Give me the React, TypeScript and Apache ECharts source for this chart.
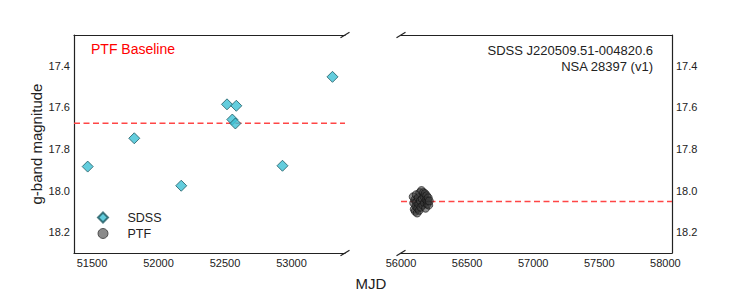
import React, { useEffect, useRef } from "react";
import * as echarts from "echarts";

const FONT = "Liberation Sans, Arial, Helvetica, sans-serif";

// SDSS photometry (MJD, g mag)
const sdssMJD = [51468, 51818, 52171, 52515, 52585, 52555, 52578, 52932, 53308];
const sdssMag = [17.885, 17.749, 17.977, 17.586, 17.593, 17.659, 17.678, 17.881, 17.454];

// PTF photometry (MJD, g mag)
const ptfMJD = [
  56092, 56096, 56100, 56104, 56108, 56112, 56115, 56118, 56122, 56126, 56130,
  56134, 56138, 56142, 56146, 56150, 56155, 56160, 56165, 56170, 56174, 56178,
  56182, 56186, 56190, 56194, 56198, 56202, 56206, 56210, 56214,
];
const ptfMag = [
  18.03, 18.06, 18.09, 18.045, 18.1, 18.075, 18.02, 18.055, 18.108, 18.085, 18.035,
  18.065, 18.095, 18.01, 18.05, 18.08, 18.0, 18.04, 18.07, 18.01, 18.03, 18.06,
  18.015, 18.085, 18.045, 18.025, 18.065, 18.05, 18.035, 18.07, 18.05,
];

// baselines
const sdssBaseline = 17.677;
const ptfBaseline = 18.053;

// axis ranges
const leftXRange = [51365, 53402];
const rightXRange = [56000, 58050];
const magRange = [17.253, 18.3];

const legendNames = ["SDSS", "PTF"];
const texts = {
  baseline: "PTF Baseline",
  objName: "SDSS J220509.51-004820.6",
  nsa: "NSA 28397 (v1)",
  yName: "g-band magnitude",
  xName: "MJD",
};

const AXIS_COLOR = "#222";
const RED = "#ff4646";

export default function App() {
  const ref = useRef<HTMLDivElement>(null);

  useEffect(() => {
    document.body.style.margin = "0";
    const chart = echarts.init(ref.current!, null, { renderer: "svg" });

    const xFmt = (v: number) => (Math.abs(v % 500) < 1e-6 ? String(v) : "");
    const yFmt = (v: number) =>
      Math.abs(v * 5 - Math.round(v * 5)) < 1e-6 ? v.toFixed(1) : "";

    const baseX = (grid: number, range: number[], pos: string, labels: boolean) => ({
      type: "value",
      gridIndex: grid,
      position: pos,
      min: range[0],
      max: range[1],
      axisLine: { show: true, onZero: false, lineStyle: { color: AXIS_COLOR, width: 1.2 } },
      axisTick: { show: false },
      splitLine: { show: false },
      axisLabel: {
        show: labels,
        formatter: xFmt,
        showMinLabel: true,
        showMaxLabel: true,
        color: AXIS_COLOR,
        fontSize: 11,
        fontFamily: FONT,
        margin: 4,
      },
    });

    const baseY = (grid: number, pos: string, line: boolean) => ({
      type: "value",
      gridIndex: grid,
      position: pos,
      inverse: true,
      min: magRange[0],
      max: magRange[1],
      axisLine: { show: line, onZero: false, lineStyle: { color: AXIS_COLOR, width: 1.2 } },
      axisTick: { show: false },
      splitLine: { show: false },
      axisLabel: {
        show: true,
        formatter: yFmt,
        color: AXIS_COLOR,
        fontSize: 11,
        fontFamily: FONT,
        margin: 4,
      },
    });

    const breakItem = (params: any, api: any) => {
      const p = api.coord([api.value(0), api.value(1)]);
      return {
        type: "line",
        shape: { x1: p[0] - 4.5, y1: p[1] + 2.8, x2: p[0] + 4.5, y2: p[1] - 2.8 },
        style: { stroke: AXIS_COLOR, lineWidth: 1.2 },
      };
    };

    const option: any = {
      animation: false,
      grid: [
        { left: 74, top: 35, width: 271, height: 218, containLabel: false },
        { left: 401, top: 35, width: 271, height: 218, containLabel: false },
      ],
      xAxis: [
        baseX(0, leftXRange, "bottom", true),
        baseX(0, leftXRange, "top", false),
        baseX(1, rightXRange, "bottom", true),
        baseX(1, rightXRange, "top", false),
      ],
      yAxis: [
        {
          ...baseY(0, "left", true),
          name: texts.yName,
          nameLocation: "middle",
          nameGap: 30,
          nameTextStyle: { fontSize: 15, color: AXIS_COLOR, fontFamily: FONT },
        },
        baseY(1, "right", true),
      ],
      legend: {
        data: [
          { name: legendNames[0], icon: "diamond" },
          { name: legendNames[1], icon: "circle", itemStyle: { borderWidth: 0.8 } },
        ],
        orient: "vertical",
        left: 92,
        top: 206,
        itemWidth: 10,
        itemHeight: 10,
        itemGap: 3,
        textStyle: { fontSize: 12.5, color: AXIS_COLOR, fontFamily: FONT, padding: [0, 0, 0, 14.5] },
      },
      graphic: [
        {
          type: "text",
          left: 91,
          top: 42,
          style: { text: texts.baseline, fill: "#ff0000", font: `14px ${FONT}` },
        },
        {
          type: "text",
          x: 653,
          y: 42,
          style: {
            text: texts.objName + "\n" + texts.nsa,
            fill: AXIS_COLOR,
            font: `13px ${FONT}`,
            textAlign: "right",
            lineHeight: 16,
          },
        },
        {
          type: "text",
          x: 371,
          y: 276,
          style: { text: texts.xName, fill: AXIS_COLOR, font: `15px ${FONT}`, textAlign: "center" },
        },
      ],
      series: [
        {
          name: "sdss-base",
          type: "line",
          xAxisIndex: 0,
          yAxisIndex: 0,
          data: [
            [leftXRange[0], sdssBaseline],
            [leftXRange[1], sdssBaseline],
          ],
          symbol: "none",
          silent: true,
          z: 1,
          lineStyle: { color: RED, width: 1.4, type: [6, 3.5] },
        },
        {
          name: "ptf-base",
          type: "line",
          xAxisIndex: 2,
          yAxisIndex: 1,
          data: [
            [rightXRange[0], ptfBaseline],
            [rightXRange[1], ptfBaseline],
          ],
          symbol: "none",
          silent: true,
          z: 1,
          lineStyle: { color: RED, width: 1.4, type: [6, 3.5] },
        },
        {
          name: legendNames[0],
          type: "scatter",
          xAxisIndex: 0,
          yAxisIndex: 0,
          symbol: "diamond",
          symbolSize: 11,
          z: 3,
          data: sdssMJD.map((x, i) => [x, sdssMag[i]]),
          itemStyle: { color: "#3cc0d4", borderColor: "#1f5a63", borderWidth: 1 },
        },
        {
          name: legendNames[1],
          type: "scatter",
          xAxisIndex: 2,
          yAxisIndex: 1,
          symbol: "circle",
          symbolSize: 8,
          z: 3,
          data: ptfMJD.map((x, i) => [x, ptfMag[i]]),
          itemStyle: { color: "rgba(60,60,60,0.75)", borderColor: "#111", borderWidth: 0.8 },
        },
        {
          name: "break-left",
          type: "custom",
          xAxisIndex: 0,
          yAxisIndex: 0,
          clip: false,
          silent: true,
          z: 5,
          renderItem: breakItem,
          data: [
            [leftXRange[1], magRange[0]],
            [leftXRange[1], magRange[1]],
          ],
        },
        {
          name: "break-right",
          type: "custom",
          xAxisIndex: 2,
          yAxisIndex: 1,
          clip: false,
          silent: true,
          z: 5,
          renderItem: breakItem,
          data: [
            [rightXRange[0], magRange[0]],
            [rightXRange[0], magRange[1]],
          ],
        },
      ],
    };

    chart.setOption(option);
    return () => chart.dispose();
  }, []);

  return <div ref={ref} style={{ width: 747, height: 299 }} />;
}
